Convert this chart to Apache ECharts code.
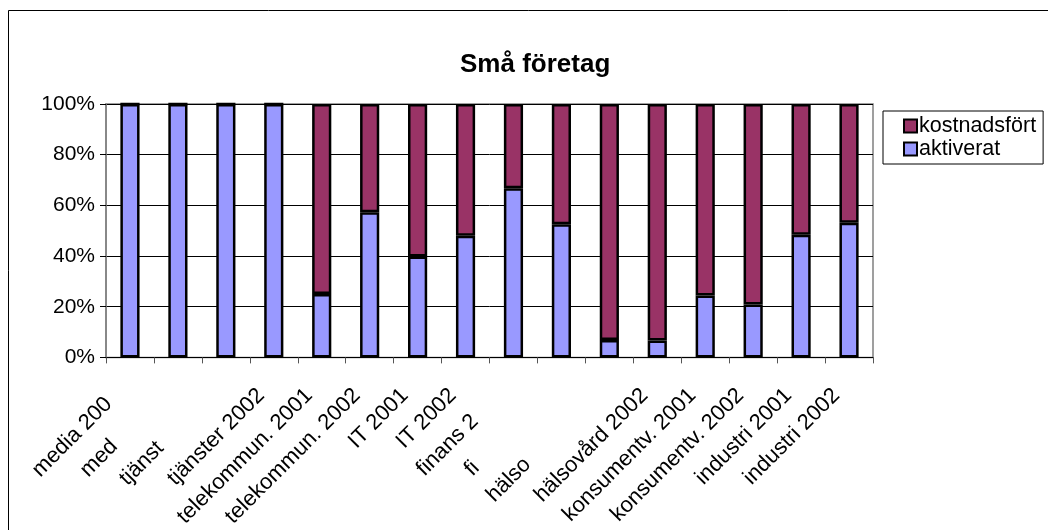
<!DOCTYPE html>
<html>
<head>
<meta charset="utf-8">
<script src="https://cdn.jsdelivr.net/npm/echarts@6/dist/echarts.min.js"></script>
<style>
  html, body { margin: 0; padding: 0; background: #fff; }
  #chart { width: 1048px; height: 530px; }
</style>
</head>
<body>
<div id="chart"></div>
<script>
// Share of development cost capitalised vs expensed, small companies
const categories = [
  'media 2001', 'media 2002', 'tjänster 2001', 'tjänster 2002',
  'telekommun. 2001', 'telekommun. 2002', 'IT 2001', 'IT 2002',
  'finans 2001', 'finans 2002', 'hälsovård 2001', 'hälsovård 2002',
  'konsumentv. 2001', 'konsumentv. 2002', 'industri 2001', 'industri 2002'
];
// Visible part of each category label (overlapping labels are cut short)
const tickLabels = [
  'media 200', 'med', 'tjänst', 'tjänster 2002',
  'telekommun. 2001', 'telekommun. 2002', 'IT 2001', 'IT 2002',
  'finans 2', 'fi', 'hälso', 'hälsovård 2002',
  'konsumentv. 2001', 'konsumentv. 2002', 'industri 2001', 'industri 2002'
];
const aktiverat = [100, 100, 100, 100, 25, 57.3, 39.8, 48, 66.8, 52.5, 6.9, 6.7, 24.4, 20.9, 48.4, 53.1];
const kostnadsfort = [0, 0, 0, 0, 75, 42.7, 60.2, 52, 33.2, 47.5, 93.1, 93.3, 75.6, 79.1, 51.6, 46.9];
const yTicks = [0, 20, 40, 60, 80, 100];

const FONT = "'Liberation Sans', Arial, sans-serif";

const chart = echarts.init(document.getElementById('chart'), null, { renderer: 'canvas' });

chart.setOption({
  backgroundColor: '#ffffff',
  animation: false,
  textStyle: { fontFamily: FONT, color: '#000' },
  graphic: [{
    type: 'rect',
    shape: { x: 8.5, y: 10.5, width: 1100, height: 600 },
    style: { fill: 'none', stroke: '#000', lineWidth: 1 },
    z: 0
  }],
  title: {
    text: 'Små företag',
    left: 455,
    top: 47,
    textStyle: { fontFamily: FONT, fontSize: 26, fontWeight: 'bold', color: '#000' }
  },
  legend: {
    orient: 'vertical',
    left: 883,
    top: 111,
    data: ['kostnadsfört', 'aktiverat'],
    icon: 'rect',
    itemWidth: 13,
    itemHeight: 13,
    itemGap: 1,
    padding: [4, 7, 4, 20],
    borderColor: '#000',
    borderWidth: 1,
    itemStyle: { borderWidth: 2, borderColor: '#000' },
    textStyle: { fontFamily: FONT, fontSize: 21.5, color: '#000', padding: [0, 0, 0, -3] }
  },
  grid: {
    left: 106,
    right: 175,
    top: 104,
    bottom: 171,
    show: true,
    borderColor: '#808080',
    borderWidth: 1.5
  },
  xAxis: {
    type: 'category',
    data: categories,
    boundaryGap: true,
    axisLine: { show: true, lineStyle: { color: '#000', width: 1 } },
    axisTick: { show: true, length: 6, lineStyle: { color: '#555' } },
    axisLabel: {
      interval: 0,
      rotate: 45,
      margin: 22,
      padding: [0, 18, 0, 0],
      fontFamily: FONT,
      fontSize: 22,
      color: '#000',
      formatter: function (value, idx) {
        const shown = tickLabels[idx];
        const rest = value.slice(shown.length);
        return '{v|' + shown + '}' + (rest ? '{h|' + rest + '}' : '');
      },
      rich: {
        v: { fontFamily: FONT, fontSize: 22, color: '#000' },
        h: { fontFamily: FONT, fontSize: 22, color: 'rgba(0,0,0,0)' }
      }
    }
  },
  yAxis: {
    type: 'value',
    min: yTicks[0],
    max: yTicks[yTicks.length - 1],
    interval: 20,
    axisLine: { show: true, lineStyle: { color: '#808080', width: 1.5 } },
    axisTick: { show: true, length: 6, lineStyle: { color: '#000' } },
    axisLabel: {
      margin: 11,
      fontFamily: FONT,
      fontSize: 21,
      color: '#000',
      formatter: '{value}%'
    },
    splitLine: { show: true, lineStyle: { color: '#000', width: 1 } }
  },
  series: [
    {
      name: 'aktiverat',
      type: 'bar',
      stack: 'andel',
      data: aktiverat,
      barWidth: '40%',
      itemStyle: { color: '#9999FF', borderColor: '#000', borderWidth: 2.5 }
    },
    {
      name: 'kostnadsfört',
      type: 'bar',
      stack: 'andel',
      data: kostnadsfort,
      barWidth: '40%',
      itemStyle: { color: '#993366', borderColor: '#000', borderWidth: 2.5 }
    }
  ]
});
</script>
</body>
</html>
